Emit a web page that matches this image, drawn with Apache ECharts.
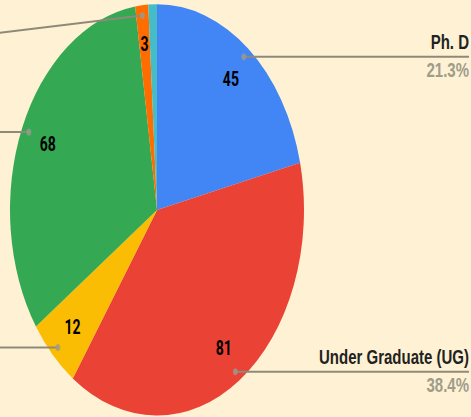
<!DOCTYPE html>
<html><head><meta charset="utf-8">
<script src="https://cdn.jsdelivr.net/npm/echarts@6/dist/echarts.min.js"></script>
<style>
html,body{margin:0;padding:0;width:471px;height:417px;overflow:hidden;background:#FFF2D4;}
#wrap{position:absolute;left:-160px;top:0;width:631px;height:298px;transform:scaleY(1.3993);transform-origin:0 0;}
</style></head><body><div id="wrap"></div>
<script>
// Data
const categories = ['Ph. D', 'Under Graduate (UG)', 'Diploma', 'Post Graduate (PG)', 'Other', 'Not Specified'];
const values = [45, 81, 12, 68, 3, 2];
const colors = ['#4285F4', '#EA4335', '#FBBC04', '#34A853', '#FF6D01', '#46BDC6'];
const showValueLabel = [true, true, true, true, true, false];
const showLeader = [true, true, true, true, true, false];
// the left-hand labels are cropped out of the reference: only their leader lines show
const showLeaderText = [true, true, false, false, false, false];

const SHIFT = 160;
const CX = 157 + SHIFT, CY = 150, R = 147;
const TOP_LABEL_DROP = 26;
const total = values.reduce((a, b) => a + b, 0);

const chart = echarts.init(document.getElementById('wrap'), null, {renderer: 'svg'});

// anchor dots at mid-angle of each slice (polar coords from the data)
let cum = 0;
const dotData = [];
values.forEach((v, i) => {
  const mid = cum + v / 2;
  cum += v;
  if (showLeader[i]) dotData.push([0.95, mid]);
});

const base = {
  type: 'pie', center: [CX, CY], startAngle: 90, clockwise: true,
  silent: true, animation: false, emphasis: {disabled: true}
};

chart.setOption({
  backgroundColor: '#FFF2D4',
  animation: false,
  polar: {center: [CX, CY], radius: R},
  angleAxis: {type: 'value', min: 0, max: total, startAngle: 90, clockwise: true, show: false},
  radiusAxis: {type: 'value', min: 0, max: 1, show: false},
  series: [
    Object.assign({}, base, {
      name: 'main', radius: [0, R], z: 1,
      label: {show: false}, labelLine: {show: false},
      data: categories.map((c, i) => ({name: c, value: values[i], itemStyle: {color: colors[i]}}))
    }),
    Object.assign({}, base, {
      name: 'values', radius: [85, R], z: 3,
      itemStyle: {color: 'rgba(0,0,0,0)'},
      label: {position: 'inside', formatter: '{c}', fontFamily: 'Roboto', fontWeight: 'bold', fontSize: 14, color: '#000'},
      labelLine: {show: false},
      data: categories.map((c, i) => ({name: c, value: values[i], label: {show: showValueLabel[i]}}))
    }),
    Object.assign({}, base, {
      name: 'outer', radius: [0, 0.95 * R], z: 2, percentPrecision: 1,
      itemStyle: {color: 'rgba(0,0,0,0)'},
      label: {
        position: 'outside', alignTo: 'edge', edgeDistance: 2, distanceToLabelLine: 0,
        formatter: '{name|{b}}\n{per|{d}%}',
        rich: {
          name: {fontFamily: 'Liberation Sans', fontWeight: 'bold', fontSize: 15, color: '#222', lineHeight: 18, align: 'right'},
          per: {fontFamily: 'Liberation Sans', fontWeight: 'bold', fontSize: 15, color: '#A09C8C', lineHeight: 22, align: 'right'}
        }
      },
      labelLine: {show: true, length: 0, length2: 10, lineStyle: {color: '#8E8A7A', width: 1.4}},
      labelLayout: function (params) {
        const pts = params.labelLinePoints;
        if (!pts) return {};
        const rect = params.labelRect;
        const isLeft = rect.x < chart.getWidth() / 2;
        if (!isLeft) {
          pts[2][0] = rect.x + rect.width;
          return {labelLinePoints: pts};
        }
        const p0 = pts[0];
        const dy = (p0[1] < CY - 0.8 * R) ? TOP_LABEL_DROP : 0;
        const yl = rect.y + rect.height / 2 + dy;
        return {dy: dy, labelLinePoints: [p0, [p0[0], p0[1]], [rect.x, yl]]};
      },
      data: categories.map((c, i) => ({
        name: c, value: values[i],
        label: showLeaderText[i] ? {show: showLeader[i]} : {show: showLeader[i], formatter: ' '},
        labelLine: {show: showLeader[i]}
      }))
    }),
    {
      type: 'scatter', coordinateSystem: 'polar', z: 5, silent: true, animation: false,
      symbol: 'circle', symbolSize: 5, itemStyle: {color: '#9E9A8C'},
      data: dotData
    }
  ]
});
</script></body></html>
